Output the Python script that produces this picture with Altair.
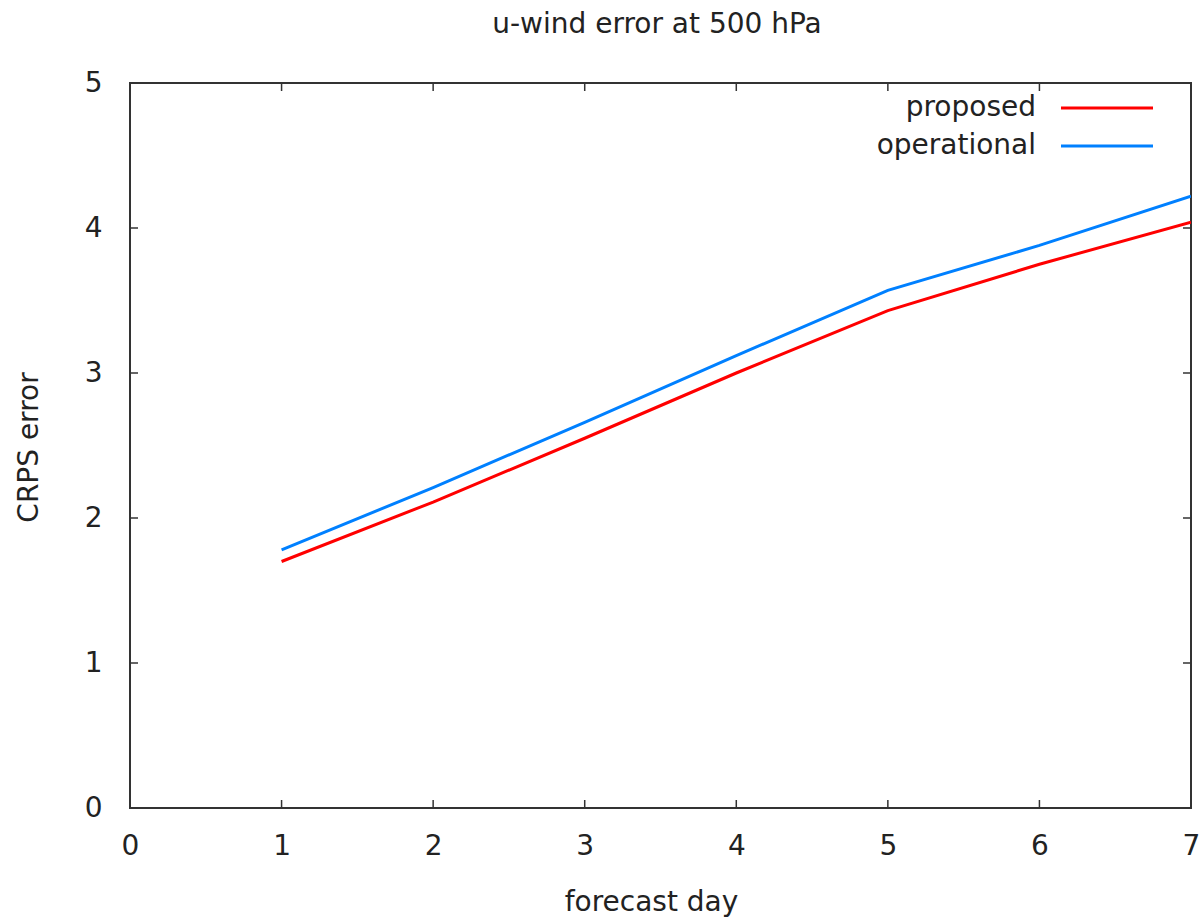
import altair as alt
import pandas as pd

days = [1, 2, 3, 4, 5, 6, 7]
proposed = [1.70, 2.11, 2.55, 3.00, 3.43, 3.75, 4.04]
operational = [1.78, 2.21, 2.66, 3.12, 3.57, 3.88, 4.22]
series_names = ["proposed", "operational"]
series_colors = ["#ff0000", "#0080ff"]
x_ticks = [0, 1, 2, 3, 4, 5, 6, 7]
y_ticks = [0, 1, 2, 3, 4, 5]
chart_title = ["u-wind error at 500 hPa"]

FONT = "DejaVu Sans"
TXT = "#222222"
W, H = 1061, 725

df = pd.DataFrame({
    "day": days * 2,
    "value": proposed + operational,
    "series": [series_names[0]] * len(days) + [series_names[1]] * len(days),
})
xt = pd.DataFrame({"t": x_ticks})
yt = pd.DataFrame({"t": y_ticks})

xs = alt.Scale(domain=[0, 7], nice=False, zero=False)
ys = alt.Scale(domain=[0, 5], nice=False, zero=False)
xaxis = alt.Axis(title="forecast day", values=x_ticks, format="d", grid=False, domain=False,
                 ticks=False, tickSize=0, labelPadding=24, labelFont=FONT, labelFontSize=28,
                 labelColor=TXT, titleFont=FONT, titleFontSize=28, titleFontWeight="normal",
                 titleColor=TXT, titleBaseline="alphabetic", titleY=102, titleX=521,
                 labelFlush=False)
yaxis = alt.Axis(title="CRPS error", values=y_ticks, format="d", grid=False, domain=False,
                 ticks=False, tickSize=0, labelPadding=28, labelFont=FONT, labelFontSize=28,
                 labelColor=TXT, titleFont=FONT, titleFontSize=28, titleFontWeight="normal",
                 titleColor=TXT, titleBaseline="alphabetic", titleX=-93, titleY=364,
                 labelFlush=False)


def X(f):
    return alt.X(f, type="quantitative", scale=xs, axis=xaxis)


def Y(f):
    return alt.Y(f, type="quantitative", scale=ys, axis=yaxis)


lines = alt.Chart(df).mark_line(strokeWidth=3, clip=True).encode(
    x=X("day"), y=Y("value"),
    color=alt.Color("series:N", scale=alt.Scale(domain=series_names, range=series_colors), legend=None),
    detail="series:N",
)

tick_style = dict(color="#333333", strokeWidth=1.5)
xb = alt.Chart(xt).mark_rule(**tick_style).encode(x=X("t"), y=alt.value(H), y2=alt.value(H - 8))
xtp = alt.Chart(xt).mark_rule(**tick_style).encode(x=X("t"), y=alt.value(0), y2=alt.value(8))
yl = alt.Chart(yt).mark_rule(**tick_style).encode(y=Y("t"), x=alt.value(0), x2=alt.value(8))
yr = alt.Chart(yt).mark_rule(**tick_style).encode(y=Y("t"), x=alt.value(W), x2=alt.value(W - 8))

title_mark = alt.Chart(pd.DataFrame({"s": chart_title})).mark_text(
    align="center", baseline="alphabetic", font=FONT, fontSize=28, color=TXT
).encode(text="s:N", x=alt.value(527), y=alt.value(-50))

leg_layers = []
for i, (name, col) in enumerate(zip(series_names, series_colors)):
    yy = 25 + 38 * i
    leg_layers.append(
        alt.Chart(pd.DataFrame({"s": [name]})).mark_text(
            align="right", baseline="middle", font=FONT, fontSize=28, color=TXT
        ).encode(text="s:N", x=alt.value(906), y=alt.value(yy))
    )
    leg_layers.append(
        alt.Chart(pd.DataFrame({"s": [name]})).mark_rule(color=col, strokeWidth=3).encode(
            x=alt.value(931), x2=alt.value(1023), y=alt.value(yy)
        )
    )

chart = alt.layer(lines, xb, xtp, yl, yr, title_mark, *leg_layers).properties(
    width=W, height=H,
    autosize=alt.AutoSizeParams(type="none"),
    padding={"left": 130, "top": 83, "right": 10, "bottom": 111},
    background="white",
).configure_view(stroke="#333333", strokeWidth=2)

chart.save("out.html", embed_options={"renderer": "svg", "actions": False})
